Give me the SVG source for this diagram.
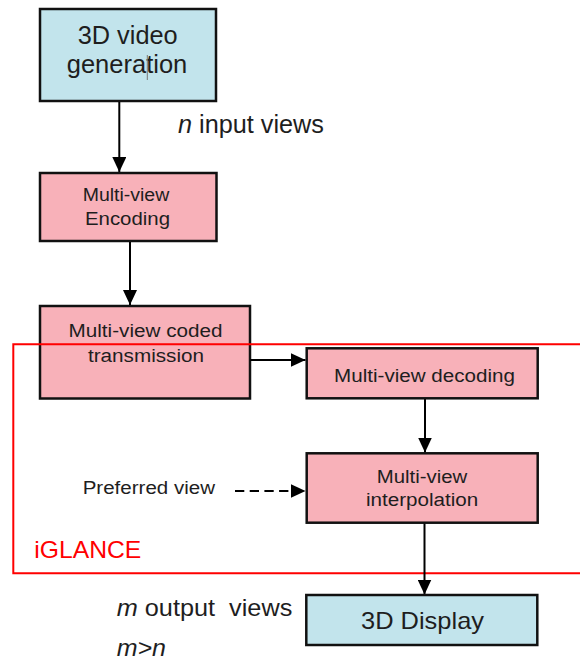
<svg xmlns="http://www.w3.org/2000/svg" width="580" height="659" viewBox="0 0 580 659">
<defs>
<style>
.blue{fill:#c2e4ec;stroke:#111;stroke-width:2.5}
.pink{fill:#f8b1b9;stroke:#111;stroke-width:2.5}
text{font-family:"Liberation Sans",Arial,sans-serif;fill:#1e1e1e}
.c{stroke:#000;stroke-width:2;fill:none;marker-end:url(#ah)}
</style>
<marker id="ah" viewBox="0 0 15 14" refX="15" refY="7" markerWidth="15" markerHeight="14" markerUnits="userSpaceOnUse" orient="auto">
<path d="M0,0L15,7L0,14Z" fill="#000"/>
</marker>
</defs>
<rect x="0" y="0" width="580" height="659" fill="#fff"/>
<g id="gen">
<rect x="40" y="9" width="176" height="92" class="blue"/>
<text x="77.7" y="43.5" font-size="25" textLength="100" lengthAdjust="spacingAndGlyphs">3D video</text>
<text x="66.7" y="72.7" font-size="25" textLength="120.6" lengthAdjust="spacingAndGlyphs">generation</text>
<line x1="147.3" y1="55" x2="147.3" y2="80" stroke="#777" stroke-width="1"/>
</g>
<text x="178" y="133.3" font-size="25" textLength="146" lengthAdjust="spacingAndGlyphs"><tspan font-style="italic">n</tspan> input views</text>
<g id="enc">
<rect x="40" y="173" width="176.5" height="68" class="pink"/>
<text x="82.7" y="200.7" font-size="18" textLength="86.6" lengthAdjust="spacingAndGlyphs">Multi-view</text>
<text x="85" y="225" font-size="18" textLength="85" lengthAdjust="spacingAndGlyphs">Encoding</text>
</g>
<g id="trans">
<rect x="40" y="306" width="210" height="92.5" class="pink"/>
<text x="68.5" y="337.3" font-size="18" textLength="154" lengthAdjust="spacingAndGlyphs">Multi-view coded</text>
<text x="88" y="361.7" font-size="18" textLength="116" lengthAdjust="spacingAndGlyphs">transmission</text>
</g>
<g id="iglance">
<path d="M585,344.3H13.3V573.3H585" fill="none" stroke="#f00" stroke-width="2"/>
<text x="34.3" y="558.3" font-size="24" textLength="107" lengthAdjust="spacingAndGlyphs" style="fill:#f00">iGLANCE</text>
</g>
<g id="connectors">
<line x1="119.3" y1="102" x2="119.3" y2="172" class="c"/>
<line x1="130" y1="242" x2="130" y2="305" class="c"/>
<line x1="250" y1="360" x2="305.5" y2="360" class="c"/>
<line x1="425" y1="398" x2="425" y2="452.5" class="c"/>
<line x1="235" y1="491" x2="305.5" y2="491" class="c" stroke-dasharray="9.3,5.4"/>
<line x1="424.5" y1="523" x2="424.5" y2="594.5" class="c"/>
</g>
<g id="dec">
<rect x="306.7" y="348.3" width="231" height="50" class="pink"/>
<text x="334" y="381.7" font-size="18" textLength="181" lengthAdjust="spacingAndGlyphs">Multi-view decoding</text>
</g>
<g id="interp">
<rect x="306.7" y="453.3" width="231" height="69.4" class="pink"/>
<text x="376.7" y="482.7" font-size="18" textLength="90.6" lengthAdjust="spacingAndGlyphs">Multi-view</text>
<text x="366" y="506" font-size="18" textLength="112.3" lengthAdjust="spacingAndGlyphs">interpolation</text>
</g>
<text x="82.7" y="494.3" font-size="18" textLength="132.3" lengthAdjust="spacingAndGlyphs">Preferred view</text>
<g id="display">
<rect x="306.3" y="595" width="231" height="50" class="blue"/>
<text x="361" y="629.3" font-size="24" textLength="123" lengthAdjust="spacingAndGlyphs">3D Display</text>
</g>
<text x="116.7" y="616" font-size="24" textLength="175.6" lengthAdjust="spacingAndGlyphs" xml:space="preserve"><tspan font-style="italic">m</tspan> output  views</text>
<text x="116.7" y="655.5" font-size="24" font-style="italic" textLength="49.3" lengthAdjust="spacingAndGlyphs">m&gt;n</text>
</svg>
